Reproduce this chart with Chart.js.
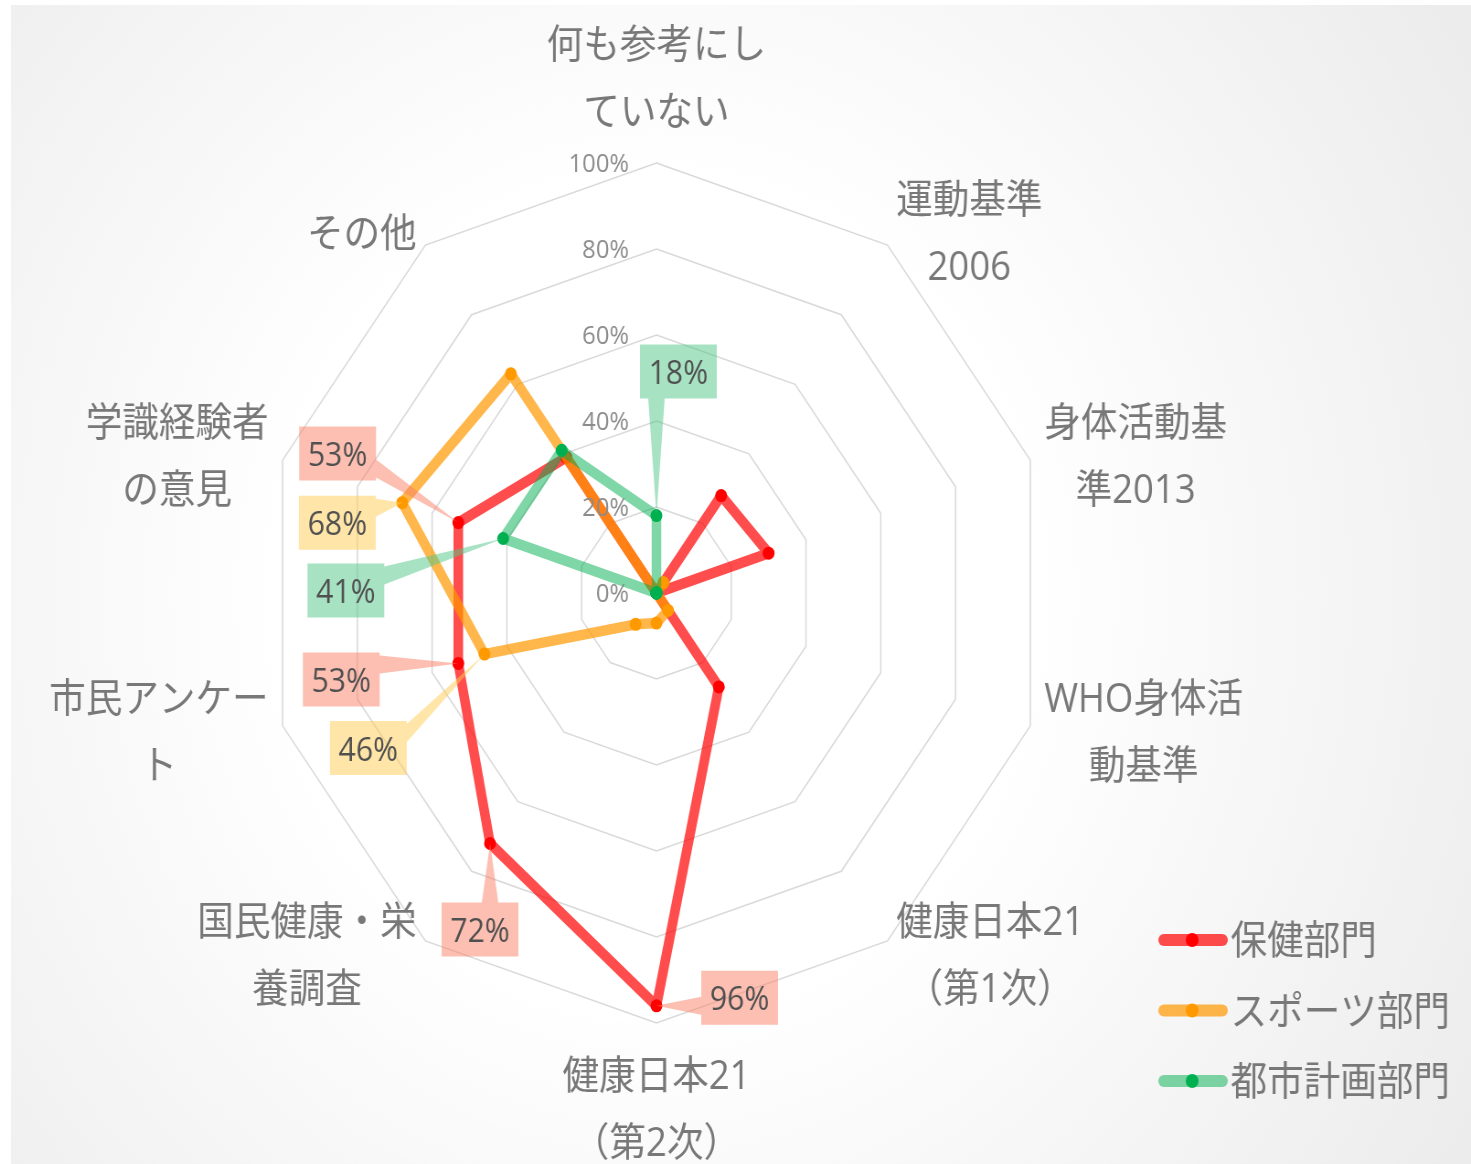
<!DOCTYPE html>
<html lang="ja">
<head>
<meta charset="utf-8">
<script src="https://cdn.jsdelivr.net/npm/chart.js@4"></script>
<style>
  html, body { margin: 0; padding: 0; background: #fff; }
  #wrap {
    position: absolute; left: 11px; top: 5px;
    width: 1597px; height: 1159px;
    transform: scaleX(0.9142); transform-origin: 0 0;
  }
</style>
</head>
<body>
<div id="wrap"><canvas id="chart" width="1597" height="1159"></canvas></div>
<script>
const categories = [
  ["何も参考にし", "ていない"],
  ["運動基準", "2006"],
  ["身体活動基", "準2013"],
  ["WHO身体活", "動基準"],
  ["健康日本21", "（第1次）"],
  ["健康日本21", "（第2次）"],
  ["国民健康・栄", "養調査"],
  ["市民アンケー", "ト"],
  ["学識経験者", "の意見"],
  ["その他"],
];
const seriesNames = ["保健部門", "スポーツ部門", "都市計画部門"];
const healthValues = [0, 28, 30, 0, 27, 96, 72, 53, 53, 39];
const sportsValues = [0, 3, 0, 0, 5, 7, 9, 46, 68, 63];
const urbanValues = [18, 0, 0, 0, 0, 0, 0, 0, 41, 41];
const tickValues = [0, 20, 40, 60, 80, 100];

const lineColors = ["rgba(255, 0, 0, 0.7)", "rgba(255, 153, 0, 0.7)", "rgba(0, 176, 80, 0.5)"];
const pointColors = ["#ff0000", "#ff9900", "#00b050"];
const boxColors = ["rgba(250, 128, 100, 0.5)", "rgba(255, 204, 80, 0.5)", "rgba(80, 200, 135, 0.5)"];

// which points get a value box, and where the box sits relative to the point
const valueBoxes = [
  { ds: 0, i: 5, dx: 91, dy: -8 },
  { ds: 0, i: 6, dx: -11, dy: 86 },
  { ds: 0, i: 7, dx: -128, dy: 16 },
  { ds: 0, i: 8, dx: -132, dy: -69 },
  { ds: 1, i: 7, dx: -127, dy: 94 },
  { ds: 1, i: 8, dx: -71, dy: 20 },
  { ds: 2, i: 0, dx: 24, dy: -144 },
  { ds: 2, i: 8, dx: -172, dy: 52 },
];

const FONT = '"Open Sans", "Noto Sans CJK JP", sans-serif';

const background = {
  id: "background",
  beforeDraw(chart) {
    const { ctx, width, height } = chart;
    const g = ctx.createRadialGradient(706, 588, 0, 706, 588, 1050);
    g.addColorStop(0, "#ffffff");
    g.addColorStop(0.4, "#ffffff");
    g.addColorStop(1, "#ececec");
    ctx.save();
    ctx.fillStyle = g;
    ctx.fillRect(0, 0, width, height);
    ctx.restore();
  },
};

const axisText = {
  id: "axisText",
  afterDraw(chart) {
    const scale = chart.scales.r;
    const ctx = chart.ctx;
    const R = scale.drawingArea;
    ctx.save();

    // tick labels, left of the vertical axis
    ctx.font = "26px " + FONT;
    ctx.fillStyle = "#8c8c8c";
    ctx.textAlign = "right";
    ctx.textBaseline = "middle";
    scale.ticks.forEach((t) => {
      const y = scale.yCenter - scale.getDistanceFromCenterForValue(t.value);
      ctx.fillText(t.value + "%", scale.xCenter - 30, y + 2);
    });

    // category labels
    ctx.font = "40px " + FONT;
    ctx.fillStyle = "#787878";
    ctx.textAlign = "center";
    const lh = 67;
    chart.data.labels.forEach((lines, i) => {
      const ang = scale.getIndexAngle(i) - Math.PI / 2;
      const cos = Math.cos(ang);
      const sin = Math.sin(ang);
      const n = lines.length;
      const bw = Math.max(...lines.map((s) => ctx.measureText(s).width));
      let x0, y0;
      if (Math.abs(cos) < 0.05) {
        const p = scale.getPointPosition(i, R + 52);
        x0 = p.x;
        y0 = sin < 0 ? p.y - (n - 1) * lh : p.y;
      } else {
        const p = scale.getPointPosition(i, R + 16);
        x0 = cos > 0 ? p.x + bw / 2 : p.x - bw / 2;
        y0 = p.y - ((n - 1) * lh) / 2;
      }
      lines.forEach((s, j) => ctx.fillText(s, x0, y0 + j * lh + 3));
    });
    ctx.restore();
  },
};

const boxLabels = {
  id: "boxLabels",
  afterDatasetsDraw(chart) {
    const ctx = chart.ctx;
    const w = 84, h = 54, half = 9;
    ctx.save();
    ctx.font = "33px " + FONT;
    ctx.textAlign = "center";
    ctx.textBaseline = "middle";
    valueBoxes.forEach((b) => {
      const pt = chart.getDatasetMeta(b.ds).data[b.i];
      const px = pt.x, py = pt.y;
      const cx = px + b.dx, cy = py + b.dy;
      const l = cx - w / 2, r = cx + w / 2, t = cy - h / 2, bt = cy + h / 2;
      let a, c;
      if (px < l || px > r) {
        const ex = px < l ? l : r;
        const yc = Math.min(Math.max(py, t + half + 3), bt - half - 3);
        a = [ex, yc - half];
        c = [ex, yc + half];
      } else {
        const ey = py < t ? t : bt;
        const xc = Math.min(Math.max(px, l + half + 3), r - half - 3);
        a = [xc - half, ey];
        c = [xc + half, ey];
      }
      ctx.beginPath();
      ctx.rect(l, t, w, h);
      ctx.moveTo(a[0], a[1]);
      ctx.lineTo(px, py);
      ctx.lineTo(c[0], c[1]);
      ctx.closePath();
      ctx.fillStyle = boxColors[b.ds];
      ctx.fill();
      ctx.fillStyle = "#505050";
      const v = chart.data.datasets[b.ds].data[b.i];
      ctx.fillText(v + "%", cx, cy + 3);
    });
    ctx.restore();
  },
};

const sideLegend = {
  id: "sideLegend",
  afterDraw(chart) {
    const ctx = chart.ctx;
    ctx.save();
    ctx.font = "40px " + FONT;
    ctx.textAlign = "left";
    ctx.textBaseline = "middle";
    chart.data.datasets.forEach((ds, k) => {
      const y = 935 + k * 70.5;
      ctx.strokeStyle = ds.borderColor;
      ctx.lineWidth = 12;
      ctx.lineCap = "round";
      ctx.beginPath();
      ctx.moveTo(1261, y);
      ctx.lineTo(1325, y);
      ctx.stroke();
      ctx.fillStyle = ds.pointBackgroundColor;
      ctx.beginPath();
      ctx.arc(1292, y, 7, 0, Math.PI * 2);
      ctx.fill();
      ctx.fillStyle = "#787878";
      ctx.fillText(ds.label, 1334, y + 3);
    });
    ctx.restore();
  },
};

const seriesValues = [healthValues, sportsValues, urbanValues];

const data = {
  labels: categories,
  datasets: seriesNames.map((name, k) => ({
    label: name,
    data: seriesValues[k],
    borderColor: lineColors[k],
    backgroundColor: lineColors[k],
    pointBackgroundColor: pointColors[k],
    pointBorderWidth: 0,
    pointRadius: 6.5,
    borderWidth: 10.5,
    borderJoinStyle: "round",
    fill: false,
    order: 3 - k,
  })),
};

const options = {
  responsive: false,
  devicePixelRatio: 1,
  animation: false,
  layout: {
    padding: { left: 276, top: 158, right: 461, bottom: 141 },
  },
  plugins: {
    legend: { display: false },
    tooltip: { enabled: false },
  },
  scales: {
    r: {
      min: 0,
      max: 100,
      afterBuildTicks: (s) => {
        s.ticks = tickValues.map((v) => ({ value: v }));
      },
      ticks: { display: false },
      pointLabels: { display: false },
      angleLines: { display: false },
      grid: { color: "#d9d9d9", lineWidth: 1.5 },
    },
  },
};

new Chart(document.querySelector("#chart"), {
  type: "radar",
  data,
  options,
  plugins: [background, axisText, boxLabels, sideLegend],
});
</script>
</body>
</html>
